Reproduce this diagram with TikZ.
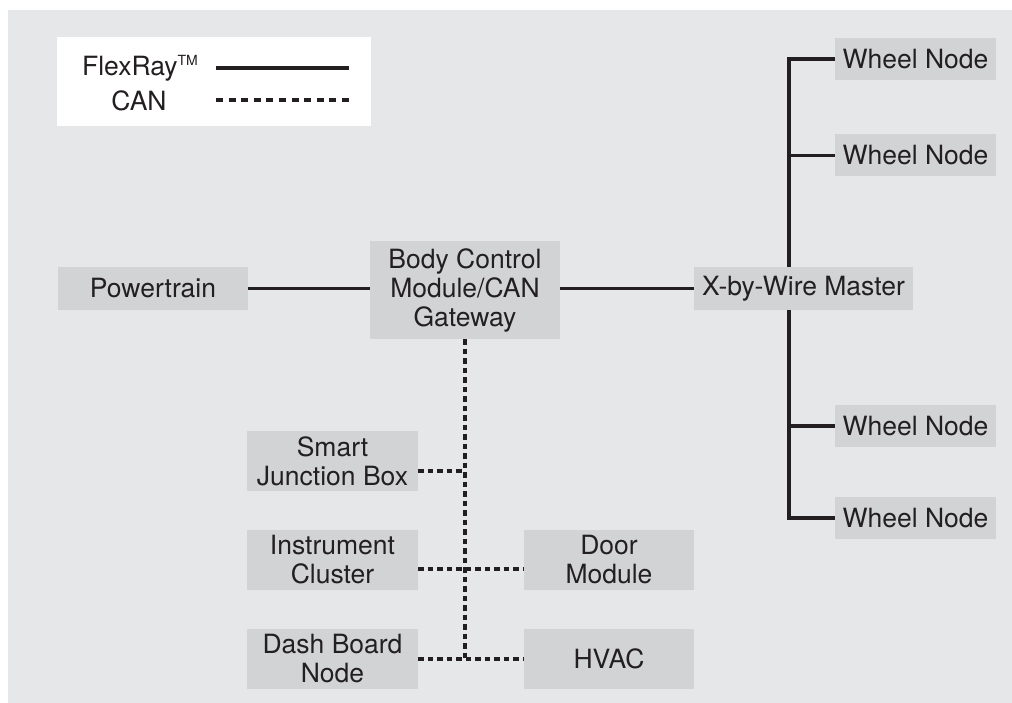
\documentclass[tikz,border=0pt]{standalone}
\usepackage{fontspec}
\setmainfont{TeX Gyre Heros}
\definecolor{bggray}{HTML}{E6E7E8}
\definecolor{boxgray}{HTML}{D1D3D4}
\definecolor{ink}{HTML}{231F20}
\begin{document}
\begin{tikzpicture}[x=1pt, y=-1pt,
    every node/.style={text=ink, font=\fontsize{26.5}{29}\selectfont, align=center},
    ecu/.style={fill=boxgray, inner sep=0pt},
    flex/.style={ink, line width=3.2pt},
    can/.style={ink, line width=3.2pt, dash pattern=on 5.5pt off 4pt}]
    \useasboundingbox (0,0) rectangle (1012,703);
    \fill[bggray] (8,10) rectangle (1012,703);

    % Legend
    \node[fill=white, minimum width=314pt, minimum height=89pt] (legend) at (214,81.5) {};
    \node[anchor=base] (flexlbl) at (140,76) {FlexRay\raisebox{10.5pt}{\fontsize{14}{14}\selectfont TM}};
    \node[anchor=base] (canlbl) at (139,111) {CAN};
    \coordinate (fa) at (216,68);
    \coordinate (fb) at (349,68);
    \coordinate (ca) at (216,100);
    \coordinate (cb) at (349,100);
    \draw[flex] (fa)--(fb);
    \draw[ink, line width=3.2pt, dash pattern=on 7pt off 5.6pt] (ca)--(cb);

    % FlexRay backbone
    \node[ecu, minimum width=190pt, minimum height=43pt] (pt) at (153,288.5) {Powertrain};
    \node[ecu, minimum width=190pt, minimum height=98pt] (bcm) at (465,290) {Body Control\\Module/CAN\\Gateway};
    \node[ecu, minimum width=219pt, minimum height=43pt] (xbw) at (803.5,288.5) {X-by-Wire Master};

    % Wheel nodes
    \node[ecu, minimum width=161pt, minimum height=42pt] (w1) at (915.5,59) {Wheel Node};
    \node[ecu, minimum width=161pt, minimum height=42pt] (w2) at (915.5,155.5) {Wheel Node};
    \node[ecu, minimum width=161pt, minimum height=42pt] (w3) at (915.5,426) {Wheel Node};
    \node[ecu, minimum width=161pt, minimum height=42pt] (w4) at (915.5,518) {Wheel Node};

    % CAN nodes
    \node[ecu, minimum width=171pt, minimum height=60pt] (sjb) at (332.5,461) {Smart\\Junction Box};
    \node[ecu, minimum width=171pt, minimum height=60pt] (ic) at (332.5,560) {Instrument\\Cluster};
    \node[ecu, minimum width=170pt, minimum height=60pt] (dm) at (609,560) {Door\\Module};
    \node[ecu, minimum width=171pt, minimum height=60pt] (db) at (332.5,659) {Dash Board\\Node};
    \node[ecu, minimum width=170pt, minimum height=60pt] (hvac) at (609,659) {HVAC};

    % Trunk of the wheel branch
    \coordinate (tk) at (789,0);

    % FlexRay edges
    \draw[flex] (pt.east)--(pt.east -| bcm.west);
    \draw[flex] (bcm.east |- xbw.west)--(xbw.west);
    \draw[flex] (w1.west)-|(tk |- xbw.north);
    \draw[flex] (w2.west)--(w2.west -| tk);
    \draw[flex] (tk |- xbw.south)|-(w4.west);
    \draw[flex] (w3.west)--(w3.west -| tk);

    % CAN edges
    \draw[can] (bcm.south)--(bcm.south |- db.east);
    \draw[can] ([yshift=-10pt]sjb.east)--([yshift=-10pt]sjb.east -| bcm.south);
    \draw[can] ([yshift=-9pt]ic.east)--([yshift=-9pt]dm.west);
    \draw[can] (db.east)--(hvac.west);

\end{tikzpicture}
\end{document}
